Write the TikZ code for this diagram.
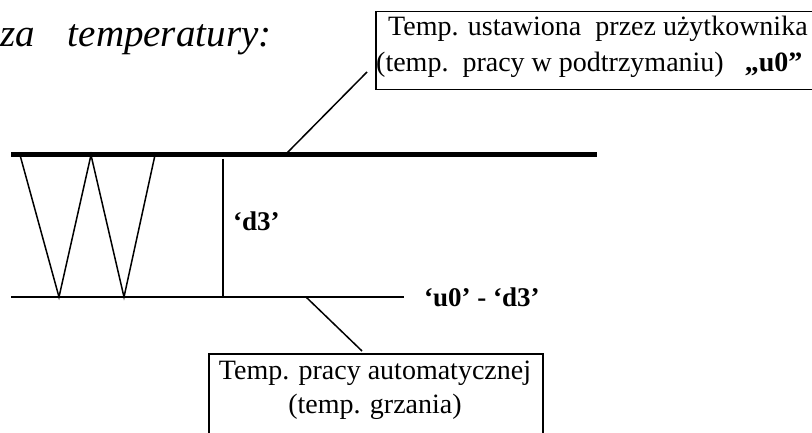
\documentclass[tikz,border=0pt]{standalone}
\usepackage{fontspec}
\setmainfont{Liberation Serif}
\begin{document}
\begin{tikzpicture}[x=1pt,y=-1pt,
  txt/.style={inner sep=0pt,anchor=base west,font=\fontsize{28}{34}\selectfont},
  boldtxt/.style={txt,font=\fontsize{27}{34}\selectfont\bfseries},
  boxr/.style={draw,line width=1.5pt,inner sep=0pt,anchor=north west},
  thin/.style={line width=1.5pt},
  heavy/.style={line width=5pt},
  mid/.style={line width=2pt}]
\useasboundingbox (0,0) rectangle (812,433);
\clip (0,0) rectangle (812,433);
% title
\node[txt,font=\fontsize{39}{44}\selectfont\itshape] (title) at (0,47) {za\hspace{33pt}temperatury:};
% top box
\node[boxr,minimum width=470pt,minimum height=78pt] (topbox) at (375,11) {};
\node[txt] (top1) at (388,36) {Temp. ustawiona\ \ przez użytkownika};
\node[txt] (top2) at (376,72) {(temp.\ \ pracy w podtrzymaniu)\ \ \ \textbf{„u0”}};
% bottom box
\node[boxr,minimum width=334pt,minimum height=110pt] (botbox) at (208,353) {};
\node[txt,anchor=base] (bot1) at (375,379) {Temp. pracy automatycznej};
\node[txt,anchor=base] (bot2) at (375,413) {(temp. grzania)};
% lines
\coordinate (tl) at (11,155);
\coordinate (tr) at (597,155);
\coordinate (bl) at (11,297);
\coordinate (br) at (404,297);
\draw[heavy] (tl) -- (tr);
\draw[mid] (bl) -- (br);
% zigzag
\coordinate (z1) at (20,155);
\coordinate (z2) at (59,297);
\coordinate (z3) at (91,155);
\coordinate (z4) at (124,297);
\coordinate (z5) at (155,155);
\draw[thin,line join=miter] (z1) -- (z2) -- (z3) -- (z4) -- (z5);
% vertical d3
\coordinate (v1) at (223,159);
\coordinate (v2) at (223,297);
\draw[thin] (v1) -- (v2);
\node[boldtxt] (d3) at (233,230) {‘d3’};
\node[boldtxt] (u0d3) at (424,306) {‘u0’ - ‘d3’};
% leaders
\coordinate (la) at (287,153);
\coordinate (lb) at (367,72);
\draw[thin] (la) -- (lb);
\coordinate (lc) at (306,297);
\coordinate (ld) at (362,351);
\draw[thin] (lc) -- (ld);
\end{tikzpicture}
\end{document}
